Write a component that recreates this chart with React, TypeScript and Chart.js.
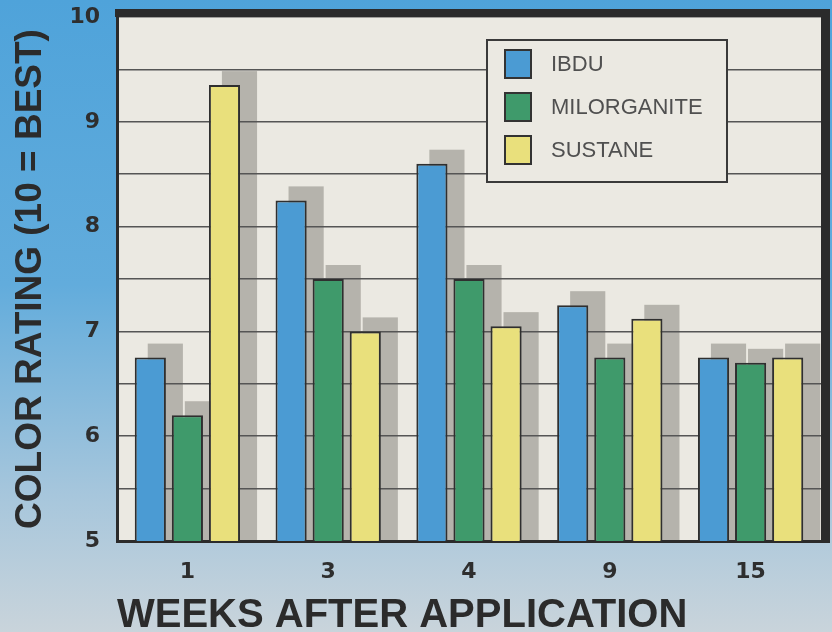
import React, { useEffect, useRef } from 'react';
import { Chart, registerables } from 'chart.js';

Chart.register(...registerables);

// ---- data ----
const categories = ['1', '3', '4', '9', '15'];
const seriesNames = ['IBDU', 'MILORGANITE', 'SUSTANE'];
const ibdu = [6.75, 8.25, 8.6, 7.25, 6.75];
const milorganite = [6.2, 7.5, 7.5, 6.75, 6.7];
const sustane = [9.35, 7.0, 7.05, 7.12, 6.75];
const seriesColors = ['#4b9bd3', '#3f9a6b', '#e9e07c'];
const yMin = 5;
const yMax = 10;
const yStep = 0.5;
const xTitle = 'WEEKS AFTER APPLICATION';
const yTitle = 'COLOR RATING (10 = BEST)';

const INK = '#2b2b2b';
const PLOT_BG = '#ebe9e2';

const backgroundPlugin = {
  id: 'scanBackground',
  beforeDraw(chart: any) {
    const { ctx, chartArea: ca, width, height } = chart;
    ctx.save();
    const g = ctx.createLinearGradient(0, 0, 0, height);
    g.addColorStop(0, '#4fa3da');
    g.addColorStop(0.45, '#62acdc');
    g.addColorStop(0.78, '#a6c6dc');
    g.addColorStop(1, '#c9d4db');
    ctx.fillStyle = g;
    ctx.fillRect(0, 0, width, height);
    ctx.fillStyle = PLOT_BG;
    ctx.fillRect(ca.left, ca.top, ca.right - ca.left, ca.bottom - ca.top);
    // offset drop shadows behind every bar
    ctx.fillStyle = 'rgba(128,125,118,0.5)';
    chart.data.datasets.forEach((_ds: any, i: number) => {
      const meta = chart.getDatasetMeta(i);
      meta.data.forEach((bar: any) => {
        const p = bar.getProps(['x', 'y', 'width', 'base'], true);
        const left = p.x - p.width / 2 + 13;
        const top = p.y - 14;
        const bottom = Math.min(p.base, ca.bottom);
        ctx.fillRect(left, top, p.width + 4, bottom - top);
      });
    });
    ctx.restore();
  },
};

const framePlugin = {
  id: 'frameAndLegend',
  afterDatasetsDraw(chart: any) {
    const { ctx, chartArea: ca } = chart;
    ctx.save();
    // thick top/right frame
    ctx.fillStyle = INK;
    ctx.fillRect(ca.left - 2, ca.top - 8, ca.right - ca.left + 11, 8);
    ctx.fillRect(ca.right, ca.top - 8, 9, ca.bottom - ca.top + 10);

    // boxed legend
    const lx = ca.left + 370;
    const ly = ca.top + 23;
    const lw = 240;
    const lh = 142;
    ctx.fillStyle = PLOT_BG;
    ctx.fillRect(lx, ly, lw, lh);
    ctx.strokeStyle = '#3a3a3a';
    ctx.lineWidth = 2;
    ctx.strokeRect(lx, ly, lw, lh);
    ctx.font = '22px "Liberation Sans", Arial, sans-serif';
    ctx.textBaseline = 'middle';
    ctx.textAlign = 'left';
    chart.data.datasets.forEach((ds: any, i: number) => {
      const sy = ly + 10 + i * 43;
      ctx.fillStyle = ds.backgroundColor;
      ctx.fillRect(lx + 18, sy, 26, 28);
      ctx.strokeStyle = '#333';
      ctx.lineWidth = 2;
      ctx.strokeRect(lx + 18, sy, 26, 28);
      ctx.fillStyle = '#505050';
      ctx.fillText(ds.label, lx + 64, sy + 15);
    });
    ctx.restore();
  },
};

export default function App() {
  const ref = useRef<HTMLCanvasElement | null>(null);

  useEffect(() => {
    if (!ref.current) return;
    const tickFont = { family: '"DejaVu Sans", sans-serif', weight: 'bold' as const, size: 22 };
    const chart = new Chart(ref.current, {
      type: 'bar',
      data: {
        labels: categories,
        datasets: [ibdu, milorganite, sustane].map((vals, i) => ({
          label: seriesNames[i],
          data: vals,
          backgroundColor: seriesColors[i],
          borderColor: '#2f2f2f',
          borderWidth: 2,
          borderSkipped: false,
          categoryPercentage: 0.79,
          barPercentage: 0.84,
        })),
      },
      options: {
        responsive: false,
        animation: false,
        layout: { padding: { left: 0, top: 17, right: 11, bottom: 0 } },
        plugins: {
          legend: { display: false },
          tooltip: { enabled: false },
        },
        scales: {
          x: {
            grid: { display: false, drawTicks: false },
            border: { display: true, color: INK, width: 3 },
            ticks: { color: '#2e2e2e', font: tickFont, padding: 18, maxRotation: 0 },
            title: {
              display: true,
              text: xTitle,
              align: 'start',
              color: INK,
              font: { family: '"Liberation Sans", Arial, sans-serif', weight: 'bold', size: 40, lineHeight: 0.8 },
              padding: 0,
            },
            afterFit: (s: any) => {
              s.height = 91;
              s.paddingLeft = 0;
              s.paddingRight = 0;
            },
          },
          y: {
            min: yMin,
            max: yMax,
            ticks: {
              stepSize: yStep,
              color: '#2e2e2e',
              font: tickFont,
              padding: 17,
              callback: (v: any) => (Number.isInteger(Number(v)) ? String(v) : ''),
            },
            grid: { color: '#555555', lineWidth: 1.5, drawTicks: false },
            border: { display: true, color: INK, width: 3 },
            title: {
              display: true,
              text: yTitle,
              color: INK,
              font: { family: '"Liberation Sans", Arial, sans-serif', weight: 'bold', size: 37, lineHeight: 1 },
              padding: { top: 12, bottom: 0 },
            },
            afterFit: (s: any) => {
              s.width = 117;
              s.paddingTop = 0;
              s.paddingBottom = 0;
            },
          },
        },
      } as any,
      plugins: [backgroundPlugin, framePlugin],
    });
    return () => chart.destroy();
  }, []);

  return (
    <div style={{ position: 'absolute', left: 0, top: 0, width: 832, height: 632 }}>
      <canvas ref={ref} width={832} height={632} style={{ display: 'block' }} />
    </div>
  );
}
